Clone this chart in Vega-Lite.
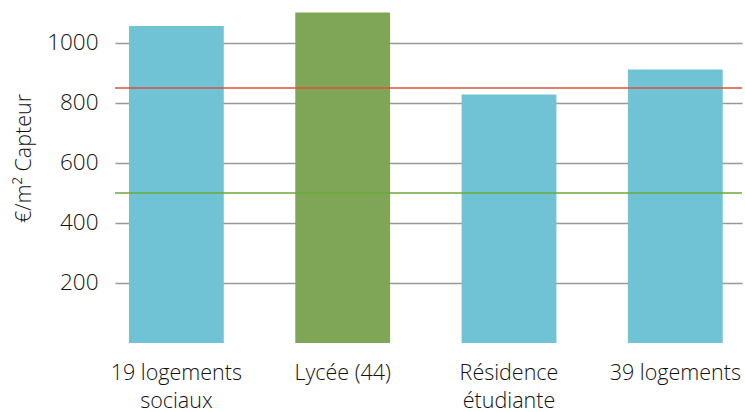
{
  "$schema": "https://vega.github.io/schema/vega-lite/v6.json",
  "autosize": {"type": "none"},
  "padding": {"left": 115, "top": 0, "right": 3, "bottom": 69},
  "width": 627,
  "height": 343,
  "background": "white",
  "config": {
    "view": {"stroke": null},
    "font": "Open Sans",
    "axis": {"labelFont": "Open Sans", "titleFont": "Open Sans", "labelColor": "#111", "titleColor": "#111", "labelFontWeight": 300, "titleFontWeight": 300}
  },
  "data": {
    "values": [
      {"projet": "19 logements sociaux", "cout": 1056, "groupe": "logement"},
      {"projet": "Lycée (44)", "cout": 1101, "groupe": "lycee"},
      {"projet": "Résidence étudiante", "cout": 828, "groupe": "logement"},
      {"projet": "39 logements", "cout": 911, "groupe": "logement"}
    ]
  },
  "layer": [
    {
      "mark": {"type": "bar"},
      "encoding": {
        "x": {
          "field": "projet", "type": "nominal", "sort": null,
          "scale": {"paddingInner": 0.43, "paddingOuter": 0.1, "align": 0.42},
          "axis": {
            "title": null, "ticks": false, "domain": false, "labelAngle": 0,
            "labelFontSize": 21.5, "labelPadding": 19, "labelLineHeight": 28,
            "labelBaseline": "top",
            "labelExpr": "datum.value == '19 logements sociaux' ? ['19 logements', 'sociaux'] : datum.value == 'Résidence étudiante' ? ['Résidence', 'étudiante'] : datum.value"
          }
        },
        "y": {
          "field": "cout", "type": "quantitative",
          "scale": {"domain": [0, 1143], "nice": false, "zero": true},
          "axis": {
            "title": "€/m² Capteur", "titleFontSize": 21.5,
            "titleX": -80, "titleY": 158,
            "values": [200, 400, 600, 800, 1000], "format": "d",
            "ticks": false, "domain": false, "labelFontSize": 22.5, "labelPadding": 17,
            "grid": true, "gridColor": "#999999", "gridWidth": 1.5
          }
        },
        "color": {
          "field": "groupe", "type": "nominal", "legend": null,
          "scale": {"domain": ["logement", "lycee"], "range": ["#70c3d4", "#7ea656"]}
        }
      }
    },
    {
      "data": {"values": [{"seuil": 850, "type": "haut"}, {"seuil": 500, "type": "bas"}]},
      "mark": {"type": "rule", "strokeWidth": 1.5},
      "encoding": {
        "y": {"field": "seuil", "type": "quantitative"},
        "color": {
          "field": "type", "type": "nominal", "legend": null,
          "scale": {"domain": ["haut", "bas"], "range": ["#d9533b", "#6aaa3a"]}
        }
      }
    }
  ],
  "resolve": {"scale": {"color": "independent"}}
}
